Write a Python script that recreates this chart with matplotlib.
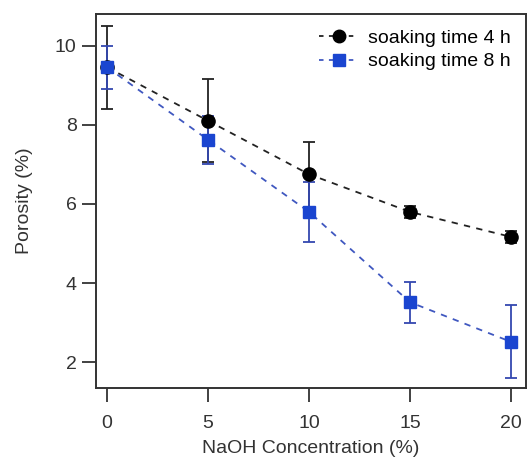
import matplotlib
matplotlib.use("Agg")
import matplotlib.pyplot as plt
from matplotlib.lines import Line2D

plt.rcParams['font.family'] = ['Liberation Sans', 'DejaVu Sans']

naoh = [0, 5, 10, 15, 20]

# soaking time 4 h
por_4h = [9.45, 8.1, 6.75, 5.8, 5.17]
err_4h = [1.05, 1.05, 0.82, 0.15, 0.15]

# soaking time 8 h
por_8h = [9.45, 7.62, 5.8, 3.52, 2.52]
err_8h = [0.55, 0.6, 0.75, 0.52, 0.92]

txt = '#333333'
blue = '#1a45d0'
blue_line = '#4058c0'
blue_err = '#3448b0'
fs = 14

fig = plt.figure(figsize=(5.29, 4.61), dpi=100)
ax = fig.add_axes([0.1815, 0.158, 0.813, 0.812])

# error bars first, then dashed lines, then markers on top
ax.errorbar(naoh, por_4h, yerr=err_4h, fmt='none', ecolor='#222222',
            capsize=4.5, elinewidth=1.3, capthick=1.3, zorder=2)
ax.errorbar(naoh, por_8h, yerr=err_8h, fmt='none', ecolor=blue_err,
            capsize=4.5, elinewidth=1.3, capthick=1.3, zorder=2)
ax.plot(naoh, por_4h, color='#222222', linestyle='--', dashes=(3.5, 3.5), linewidth=1.3, zorder=3)
ax.plot(naoh, por_8h, color=blue_line, linestyle='--', dashes=(3.5, 3.5), linewidth=1.3, zorder=3)
ax.plot(naoh, por_4h, 'o', color='black', markersize=9.5, zorder=4)
ax.plot(naoh, por_8h, 's', color=blue, markersize=8, zorder=5)

ax.set_xlim(-0.55, 20.75)
ax.set_ylim(1.35, 10.8)
ax.set_xticks(naoh)
ax.set_yticks([2, 4, 6, 8, 10])
ax.tick_params(direction='out', length=10, width=1.3, labelsize=fs, colors=txt)
ax.tick_params(axis='x', pad=9)
ax.tick_params(axis='y', pad=4)
for s in ax.spines.values():
    s.set_linewidth(1.4)
    s.set_color(txt)

ax.set_xlabel('NaOH Concentration (%)', fontsize=fs, color=txt, labelpad=6)
ax.set_ylabel('Porosity (%)', fontsize=fs, color=txt, labelpad=16)

handles = [
    Line2D([], [], color='#222222', linestyle='--', dashes=(2.5, 3.0), linewidth=1.3,
           marker='o', markersize=9, markerfacecolor='black', markeredgecolor='black'),
    Line2D([], [], color=blue_line, linestyle='--', dashes=(2.5, 3.0), linewidth=1.3,
           marker='s', markersize=8, markerfacecolor=blue, markeredgecolor=blue),
]
ax.legend(handles, ['soaking time 4 h', 'soaking time 8 h'], loc='upper right',
          frameon=False, fontsize=fs, handlelength=2.0, handletextpad=0.5,
          borderaxespad=0.5, labelspacing=0.3, borderpad=0.3)

fig.savefig('out.png', dpi=100)
